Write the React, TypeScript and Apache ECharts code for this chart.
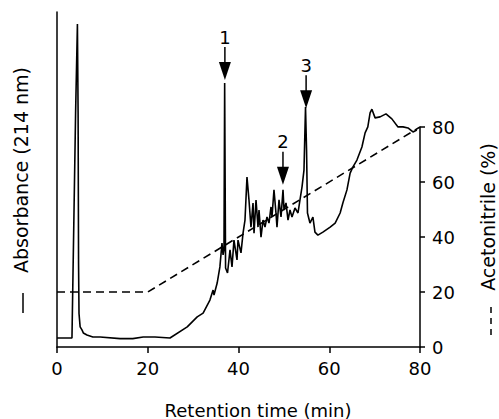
import React, { useEffect, useRef } from "react";
import * as echarts from "echarts";

// Chromatogram (retention time in min, absorbance in arbitrary units 0-100)
const retentionTimes = [
  0, 3.3, 4.1, 4.5, 4.65, 4.75, 4.85, 5.1, 5.5, 5.8, 6.6, 7.9, 9.5, 13.9, 16.7, 19.0, 21.6, 24.9,
  28.7, 30.9, 32.2, 33.7, 34.4, 34.6, 35.3, 35.9, 36.36, 36.6, 36.8, 36.95, 37.15, 37.58, 38.13, 38.57,
  39.0, 39.67, 39.89, 40.55, 41.0, 41.43, 41.87, 42.31, 42.75, 43.2, 43.42, 43.86, 44.3, 44.52, 44.96, 45.4,
  45.84, 46.28, 46.72, 47.16, 47.38, 47.82, 48.26, 48.48, 48.93, 49.37, 49.81, 50.03, 50.47, 50.91, 51.35, 51.79,
  52.45, 53.11, 53.55, 54.0, 54.43, 54.77, 55.0, 55.2, 55.75, 56.4, 56.85, 57.5, 58.6, 60.2, 61.3,
  62.4, 63.0, 63.9, 64.6, 65.2, 66.1, 67.2, 67.9, 68.5, 69.0, 69.4, 70.1, 71.2, 72.5, 73.8, 75.15,
  76.25, 77.35, 78.45, 79.3,
];
const absorbance = [
  2.7, 2.7, 70, 96.4, 70, 25, 10, 6.0, 5.1, 4.2, 3.6, 3.0, 3.0, 2.5, 2.5, 3.0, 3.0, 2.7,
  6.0, 9.0, 10.1, 14.0, 17.0, 15.5, 19.1, 23.9, 31.0, 27.5, 29, 78.8, 23.6, 22.1, 29.0, 23.9,
  31.9, 26.0, 31.9, 28.1, 34.0, 37.9, 50.7, 43.9, 35.8, 43.0, 34.0, 43.9, 35.8, 40.9, 32.8, 37.9,
  35.8, 38.8, 37.0, 41.8, 38.8, 46.9, 40.0, 35.8, 43.9, 38.8, 46.9, 40.9, 43.0, 37.9, 40.9, 38.8,
  41.5, 40.0, 43.9, 47.8, 52.8, 71.6, 58.8, 40.0, 37.0, 38.8, 34.3, 33.4, 34.3, 35.8, 37.0,
  40.0, 43.0, 46.9, 51.9, 53.7, 55.8, 59.7, 63.9, 65.7, 69.9, 71.0, 68.4, 68.7, 69.6, 68.1, 65.7,
  65.7, 65.4, 64.2, 64.8,
];

// Acetonitrile gradient (%)
const gradientTimes = [0, 20, 80];
const acetonitrile = [20, 20, 80];

// Peak annotations
const peakLabels = ["1", "2", "3"];
const peakTimes = [37.0, 49.8, 54.9];
const arrowTipAbs = [79.7, 48.4, 71.3];

const FONT = "DejaVu Sans";

export default function App() {
  const ref = useRef<HTMLDivElement>(null);
  useEffect(() => {
    document.body.style.margin = "0";
    const chart = echarts.init(ref.current!, null, { renderer: "svg" });
    const axisLine = { show: true, onZero: false, lineStyle: { color: "#000", width: 1.5 } };
    chart.setOption({
      animation: false,
      backgroundColor: "#fff",
      grid: [
        { left: 57, right: 79, top: 12, bottom: 72 },
        { left: 57, right: 79, top: 127, bottom: 72 },
      ],
      xAxis: [
        {
          type: "value",
          gridIndex: 0,
          min: 0,
          max: 80,
          interval: 20,
          axisLine,
          axisTick: { show: true, length: 6, lineStyle: { color: "#000", width: 1.5 } },
          axisLabel: { color: "#000", fontSize: 18, fontFamily: FONT, margin: 12 },
          splitLine: { show: false },
        },
        {
          type: "value",
          gridIndex: 1,
          min: 0,
          max: 80,
          show: false,
          splitLine: { show: false },
        },
      ],
      yAxis: [
        {
          type: "value",
          gridIndex: 0,
          min: 0,
          max: 100,
          axisLine,
          axisTick: { show: false },
          axisLabel: { show: false },
          splitLine: { show: false },
        },
        {
          type: "value",
          gridIndex: 1,
          position: "right",
          min: 0,
          max: 80,
          interval: 20,
          axisLine,
          axisTick: { show: true, length: 5, lineStyle: { color: "#000", width: 1.5 } },
          axisLabel: { color: "#000", fontSize: 18, fontFamily: FONT, margin: 12 },
          splitLine: { show: false },
        },
      ],
      series: [
        {
          type: "line",
          xAxisIndex: 0,
          yAxisIndex: 0,
          data: retentionTimes.map((t, i) => [t, absorbance[i]]),
          showSymbol: false,
          lineStyle: { color: "#000", width: 1.6 },
          z: 3,
        },
        {
          type: "line",
          xAxisIndex: 1,
          yAxisIndex: 1,
          data: gradientTimes.map((t, i) => [t, acetonitrile[i]]),
          showSymbol: false,
          lineStyle: { color: "#000", width: 1.6, type: [8, 5] },
          z: 2,
        },
      ],
    });

    const graphics: any[] = [];
    peakLabels.forEach((lab, i) => {
      const p = chart.convertToPixel({ xAxisIndex: 0, yAxisIndex: 0 }, [peakTimes[i], arrowTipAbs[i]]) as number[];
      const px = p[0];
      const py = p[1];
      graphics.push({
        type: "polygon",
        shape: { points: [[px - 6, py - 18], [px + 6, py - 18], [px, py]] },
        style: { fill: "#000" },
      });
      graphics.push({
        type: "line",
        shape: { x1: px, y1: py - 33, x2: px, y2: py - 17 },
        style: { stroke: "#000", lineWidth: 1.5 },
      });
      graphics.push({
        type: "text",
        x: px,
        y: py - 43,
        style: {
          text: lab, fontSize: 18, fontFamily: FONT, fill: "#000",
          align: "center", verticalAlign: "middle", textAlign: "center", textVerticalAlign: "middle",
        },
      });
    });
    graphics.push({
      type: "text",
      x: 21,
      y: 170,
      rotation: Math.PI / 2,
      style: {
        text: "Absorbance (214 nm)", fontSize: 19, fontFamily: FONT, fill: "#000",
        align: "center", verticalAlign: "middle", textAlign: "center", textVerticalAlign: "middle",
      },
    });
    graphics.push({
      type: "line",
      shape: { x1: 23, y1: 293, x2: 23, y2: 313 },
      style: { stroke: "#000", lineWidth: 1.5 },
    });
    graphics.push({
      type: "text",
      x: 488,
      y: 217,
      rotation: Math.PI / 2,
      style: {
        text: "Acetonitrile (%)", fontSize: 19, fontFamily: FONT, fill: "#000",
        align: "center", verticalAlign: "middle", textAlign: "center", textVerticalAlign: "middle",
      },
    });
    graphics.push({
      type: "line",
      shape: { x1: 491, y1: 307, x2: 491, y2: 338 },
      style: { stroke: "#000", lineWidth: 1.5, lineDash: [6, 5] },
    });
    graphics.push({
      type: "text",
      x: 258,
      y: 410,
      style: {
        text: "Retention time (min)", fontSize: 18, fontFamily: FONT, fill: "#000",
        align: "center", verticalAlign: "middle", textAlign: "center", textVerticalAlign: "middle",
      },
    });
    chart.setOption({ graphic: graphics });
    return () => chart.dispose();
  }, []);
  return <div ref={ref} style={{ position: "absolute", left: 0, top: 0, width: 499, height: 419 }} />;
}
